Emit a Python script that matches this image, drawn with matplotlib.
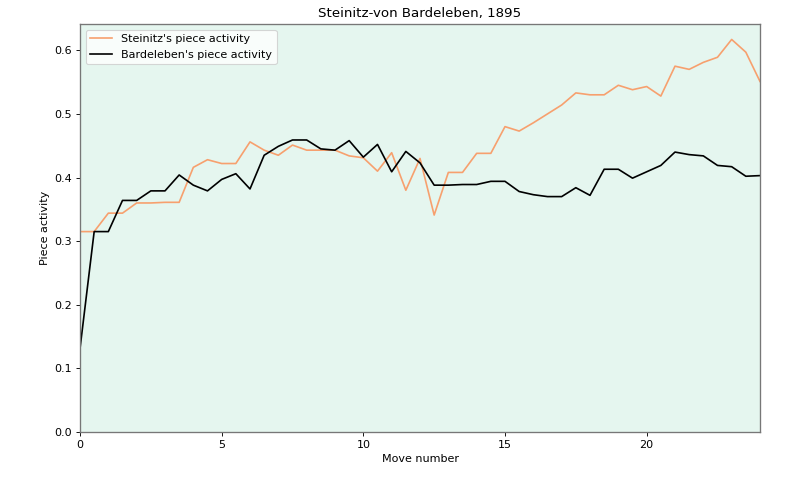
import numpy as np
import matplotlib
matplotlib.use("Agg")
import matplotlib.pyplot as plt

moves = [i * 0.5 for i in range(49)]

steinitz = [0.315, 0.315, 0.344, 0.344, 0.360, 0.360, 0.361, 0.361, 0.416, 0.428,
            0.422, 0.422, 0.456, 0.443, 0.435, 0.451, 0.443, 0.443, 0.443, 0.434,
            0.431, 0.410, 0.439, 0.380, 0.430, 0.341, 0.408, 0.408, 0.438, 0.438,
            0.480, 0.473, 0.486, 0.500, 0.514, 0.533, 0.530, 0.530, 0.545, 0.538,
            0.543, 0.528, 0.575, 0.570, 0.581, 0.589, 0.617, 0.597, 0.551]

bardeleben = [0.131, 0.315, 0.315, 0.364, 0.364, 0.379, 0.379, 0.404, 0.388, 0.379,
              0.397, 0.406, 0.382, 0.435, 0.449, 0.459, 0.459, 0.445, 0.443, 0.458,
              0.432, 0.452, 0.409, 0.441, 0.423, 0.388, 0.388, 0.389, 0.389, 0.394,
              0.394, 0.378, 0.373, 0.370, 0.370, 0.384, 0.372, 0.413, 0.413, 0.399,
              0.409, 0.419, 0.440, 0.436, 0.434, 0.419, 0.417, 0.402, 0.403]

fig = plt.figure(figsize=(10, 6), dpi=80)
ax = fig.add_axes([0.1, 0.1, 0.85, 0.85])
ax.set_facecolor('#e5f6ef')
ax.plot(moves, steinitz, color='#f7a06e', lw=1.5, label="Steinitz's piece activity")
ax.plot(moves, bardeleben, color='black', lw=1.5, label="Bardeleben's piece activity")
ax.set_xlim(0, 24)
ax.set_ylim(bottom=0)
ax.set_xlabel('Move number')
ax.set_ylabel('Piece activity')
ax.set_title('Steinitz-von Bardeleben, 1895')
for s in ax.spines.values():
    s.set_color('#777777')
    s.set_linewidth(1.2)
ax.legend(loc='upper left')
fig.savefig('out.png', dpi=80)
